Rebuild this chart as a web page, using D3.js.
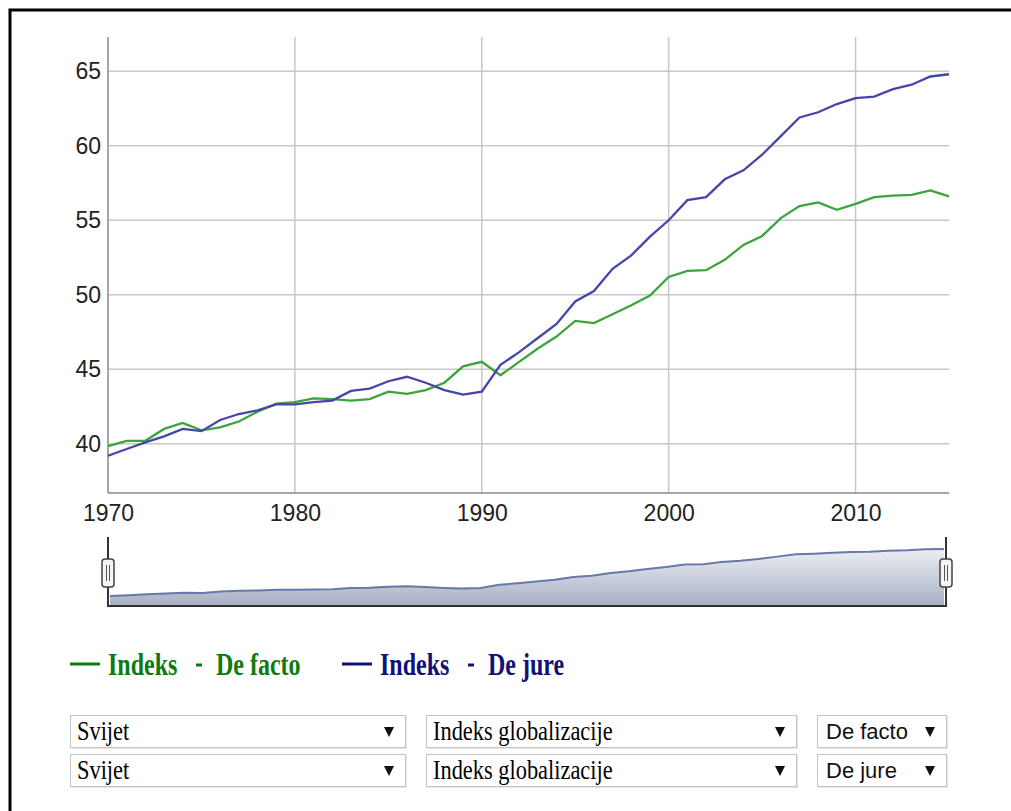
<!DOCTYPE html>
<html>
<head>
<meta charset="utf-8">
<script src="https://cdn.jsdelivr.net/npm/d3@7"></script>
<style>
  html, body { margin: 0; padding: 0; background: #fff; overflow: hidden; }
</style>
</head>
<body>
<div id="chart"></div>
<script>
// Years on the x axis
const years = [1970, 1971, 1972, 1973, 1974, 1975, 1976, 1977, 1978, 1979,
  1980, 1981, 1982, 1983, 1984, 1985, 1986, 1987, 1988, 1989,
  1990, 1991, 1992, 1993, 1994, 1995, 1996, 1997, 1998, 1999,
  2000, 2001, 2002, 2003, 2004, 2005, 2006, 2007, 2008, 2009,
  2010, 2011, 2012, 2013, 2014, 2015];

// Indeks - De facto (green)
const deFacto = [39.85, 40.2, 40.2, 41.0, 41.4, 40.9, 41.1, 41.5, 42.15, 42.7,
  42.8, 43.05, 43.0, 42.9, 43.0, 43.5, 43.35, 43.6, 44.1, 45.2,
  45.5, 44.6, 45.5, 46.4, 47.2, 48.25, 48.1, 48.7, 49.3, 49.95,
  51.2, 51.6, 51.65, 52.35, 53.35, 53.95, 55.15, 55.95, 56.2, 55.7,
  56.1, 56.55, 56.65, 56.7, 57.0, 56.6];

// Indeks - De jure (blue)
const deJure = [39.2, 39.65, 40.1, 40.5, 41.0, 40.85, 41.6, 42.0, 42.25, 42.65,
  42.65, 42.8, 42.9, 43.55, 43.7, 44.2, 44.5, 44.1, 43.6, 43.3,
  43.5, 45.3, 46.15, 47.1, 48.05, 49.55, 50.25, 51.75, 52.65, 53.9,
  55.0, 56.35, 56.55, 57.75, 58.35, 59.4, 60.65, 61.9, 62.25, 62.8,
  63.2, 63.3, 63.8, 64.1, 64.65, 64.8];

const xTicks = [1970, 1980, 1990, 2000, 2010];
const yTicks = [40, 45, 50, 55, 60, 65];

const legendItems = [
  { label: "Indeks", sub: "De facto", color: "#0f7a0f" },
  { label: "Indeks", sub: "De jure", color: "#11117a" }
];
const selectRows = [
  ["Svijet", "Indeks globalizacije", "De facto"],
  ["Svijet", "Indeks globalizacije", "De jure"]
];

const width = 1011;
const height = 811;

const svg = d3.select("#chart").append("svg")
  .attr("width", width)
  .attr("height", height)
  .style("display", "block");

// frame round the whole widget
svg.append("rect")
  .attr("x", 10).attr("y", 10)
  .attr("width", 1100).attr("height", 900)
  .attr("fill", "none")
  .attr("stroke", "#000")
  .attr("stroke-width", 3);

// main plot scales
const x = d3.scaleLinear().domain([1970, 2015]).range([108, 949]);
const y = d3.scaleLinear().domain([36.7, 67.3]).range([493, 37]);

const plot = svg.append("g");

// grid
plot.append("g").selectAll("line")
  .data(yTicks)
  .join("line")
  .attr("x1", 108).attr("x2", 949)
  .attr("y1", d => y(d)).attr("y2", d => y(d))
  .attr("stroke", "#c8c8c8")
  .attr("stroke-width", 1.5);

plot.append("g").selectAll("line")
  .data(xTicks.slice(1))
  .join("line")
  .attr("x1", d => x(d)).attr("x2", d => x(d))
  .attr("y1", 37).attr("y2", 493)
  .attr("stroke", "#c8c8c8")
  .attr("stroke-width", 1.5);

// axis lines
plot.append("line")
  .attr("x1", 108).attr("x2", 108).attr("y1", 37).attr("y2", 493)
  .attr("stroke", "#8a8a8a").attr("stroke-width", 1.5);
plot.append("line")
  .attr("x1", 108).attr("x2", 949).attr("y1", 493).attr("y2", 493)
  .attr("stroke", "#8a8a8a").attr("stroke-width", 1.5);

// tick labels
const yAxis = plot.append("g")
  .attr("transform", "translate(108,0)")
  .call(d3.axisLeft(y).tickValues(yTicks).tickSize(0).tickPadding(7));
const xAxis = plot.append("g")
  .attr("transform", "translate(0,493)")
  .call(d3.axisBottom(x).tickValues(xTicks).tickFormat(d3.format("d")).tickSize(0).tickPadding(12));
[yAxis, xAxis].forEach(a => {
  a.select(".domain").remove();
  a.selectAll("text")
    .attr("fill", "#222")
    .style("font-family", "'Liberation Sans', Arial, sans-serif")
    .style("font-size", "23px");
});

// series lines
const line = d3.line()
  .x((d, i) => x(years[i]))
  .y(d => y(d));

plot.append("path")
  .datum(deFacto)
  .attr("d", line)
  .attr("fill", "none")
  .attr("stroke", "#3ba53b")
  .attr("stroke-width", 2.3);

plot.append("path")
  .datum(deJure)
  .attr("d", line)
  .attr("fill", "none")
  .attr("stroke", "#4646a8")
  .attr("stroke-width", 2.3);

// navigator
const xNav = d3.scaleLinear().domain([1970, 2015]).range([110, 944]);
const yNav = d3.scaleLinear().domain([d3.min(deJure), d3.max(deJure)]).range([596, 549]);

const defs = svg.append("defs");
const grad = defs.append("linearGradient")
  .attr("id", "navFill")
  .attr("x1", 0).attr("y1", 0).attr("x2", 0).attr("y2", 1);
grad.append("stop").attr("offset", "0%").attr("stop-color", "#eceef3");
grad.append("stop").attr("offset", "100%").attr("stop-color", "#a7afc3");

const nav = svg.append("g");

nav.append("path")
  .datum(deJure)
  .attr("d", d3.area()
    .x((d, i) => xNav(years[i]))
    .y0(606)
    .y1(d => yNav(d)))
  .attr("fill", "url(#navFill)");

nav.append("path")
  .datum(deJure)
  .attr("d", d3.line()
    .x((d, i) => xNav(years[i]))
    .y(d => yNav(d)))
  .attr("fill", "none")
  .attr("stroke", "#6878a8")
  .attr("stroke-width", 2);

nav.append("line")
  .attr("x1", 108).attr("x2", 946).attr("y1", 606).attr("y2", 606)
  .attr("stroke", "#333").attr("stroke-width", 2);

[108, 946].forEach(hx => {
  nav.append("line")
    .attr("x1", hx).attr("x2", hx).attr("y1", 537).attr("y2", 607)
    .attr("stroke", "#333").attr("stroke-width", 2);
  const h = nav.append("g").attr("transform", `translate(${hx},573)`);
  h.append("rect")
    .attr("x", -6).attr("y", -14).attr("width", 12).attr("height", 28)
    .attr("rx", 3)
    .attr("fill", "#f4f4f4")
    .attr("stroke", "#444").attr("stroke-width", 1.5);
  [-2, 1].forEach(dx => {
    h.append("line")
      .attr("x1", dx + 0.5).attr("x2", dx + 0.5).attr("y1", -8).attr("y2", 8)
      .attr("stroke", "#555").attr("stroke-width", 1);
  });
});

// legend
const legend = svg.append("g").attr("transform", "translate(0,664)");
const legendX = [70, 342];
legendItems.forEach((item, i) => {
  const g = legend.append("g").attr("transform", `translate(${legendX[i]},0)`);
  g.append("line")
    .attr("x1", 0).attr("x2", 30).attr("y1", 0).attr("y2", 0)
    .attr("stroke", item.color).attr("stroke-width", 3);
  g.append("text")
    .attr("transform", "translate(38,11) scale(0.75,1)")
    .attr("fill", item.color)
    .style("font-family", "'Liberation Serif', 'Times New Roman', serif")
    .style("font-weight", "bold")
    .style("font-size", "32px")
    .text(item.label);
  g.append("line")
    .attr("x1", 126).attr("x2", 132).attr("y1", 1).attr("y2", 1)
    .attr("stroke", item.color).attr("stroke-width", 3);
  g.append("text")
    .attr("transform", "translate(146,11) scale(0.75,1)")
    .attr("fill", item.color)
    .style("font-family", "'Liberation Serif', 'Times New Roman', serif")
    .style("font-weight", "bold")
    .style("font-size", "32px")
    .text(item.sub);
});

// select boxes
const boxX = [[70, 336], [426, 371], [817, 130]];
selectRows.forEach((row, r) => {
  const top = 715 + r * 39;
  row.forEach((txt, c) => {
    const [bx, bw] = boxX[c];
    const g = svg.append("g").attr("transform", `translate(${bx},${top})`);
    g.append("rect")
      .attr("x", 1).attr("y", 1).attr("width", bw).attr("height", 33)
      .attr("fill", "#e6e6e6");
    g.append("rect")
      .attr("x", 0.5).attr("y", 0.5).attr("width", bw - 1).attr("height", 32)
      .attr("fill", "#fff")
      .attr("stroke", "#c4c4c4").attr("stroke-width", 1);
    if (c < 2) {
      g.append("text")
        .attr("transform", "translate(7,25) scale(0.8,1)")
        .attr("fill", "#000")
        .style("font-family", "'Liberation Serif', 'Times New Roman', serif")
        .style("font-size", "28px")
        .text(txt);
    } else {
      g.append("text")
        .attr("x", 9).attr("y", 24)
        .attr("fill", "#111")
        .style("font-family", "'Liberation Sans', Arial, sans-serif")
        .style("font-size", "22px")
        .text(txt);
    }
    const tx = bw - 17;
    g.append("path")
      .attr("d", `M${tx - 5},12 L${tx + 5},12 L${tx},22 Z`)
      .attr("fill", "#111");
  });
});
</script>
</body>
</html>
